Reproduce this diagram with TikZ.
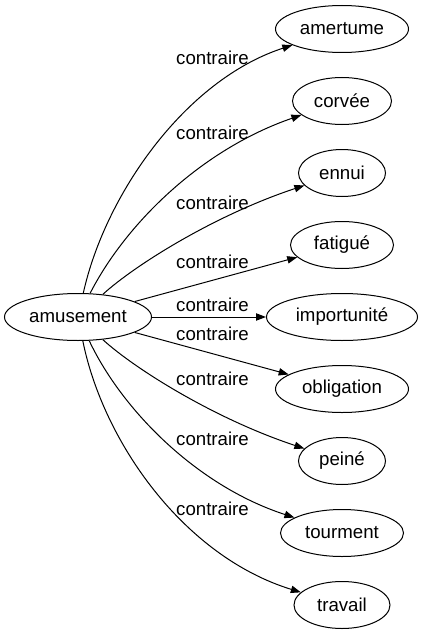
\documentclass[tikz,border=0pt]{standalone}
\usepackage{fontspec}
\setmainfont{Liberation Sans}
\usetikzlibrary{shapes.geometric,arrows.meta}
\begin{document}
\begin{tikzpicture}[x=0.75pt,y=-0.75pt,
  word/.style={ellipse,draw,line width=0.75pt,inner sep=0pt,minimum height=47*0.75pt,font=\fontsize{14}{16}\selectfont},
  lbl/.style={inner sep=0pt,font=\fontsize{14}{16}\selectfont},
  rel/.style={line width=0.75pt,-{Triangle[length=7.5pt,width=5.5pt]}}]
\useasboundingbox (0,0) rectangle (423,635);
\node[word,minimum width=147*0.75pt] (am) at (78,317) {amusement};
\node[word,minimum width=133*0.75pt] (t1) at (342,29) {amertume};
\node[word,minimum width=99*0.75pt] (t2) at (342,101) {corvée};
\node[word,minimum width=87*0.75pt] (t3) at (342,173) {ennui};
\node[word,minimum width=103*0.75pt] (t4) at (342,245) {fatigué};
\node[word,minimum width=151*0.75pt] (t5) at (342,317) {importunité};
\node[word,minimum width=133*0.75pt] (t6) at (342,389) {obligation};
\node[word,minimum width=87*0.75pt] (t7) at (342,461) {peiné};
\node[word,minimum width=123*0.75pt] (t8) at (342,533) {tourment};
\node[word,minimum width=96*0.75pt] (t9) at (342,605) {travail};
\draw[rel] (am) .. controls (105,195) and (185,80) .. (t1);
\draw[rel] (am) .. controls (125,225) and (200,150) .. (t2);
\draw[rel] (am) .. controls (135,265) and (215,215) .. (t3);
\draw[rel] (am) -- (t4);
\draw[rel] (am) -- (t5);
\draw[rel] (am) -- (t6);
\draw[rel] (am) .. controls (135,369) and (215,419) .. (t7);
\draw[rel] (am) .. controls (122,410) and (197,486) .. (t8);
\draw[rel] (am) .. controls (103,441) and (183,556) .. (t9);
\node[lbl] (l1) at (212.5,58) {contraire};
\node[lbl] (l2) at (212.5,133) {contraire};
\node[lbl] (l3) at (212.5,203) {contraire};
\node[lbl] (l4) at (212.5,262) {contraire};
\node[lbl] (l5) at (212.5,305) {contraire};
\node[lbl] (l6) at (212.5,334) {contraire};
\node[lbl] (l7) at (212.5,379) {contraire};
\node[lbl] (l8) at (212.5,439) {contraire};
\node[lbl] (l9) at (212.5,509) {contraire};
\end{tikzpicture}
\end{document}
